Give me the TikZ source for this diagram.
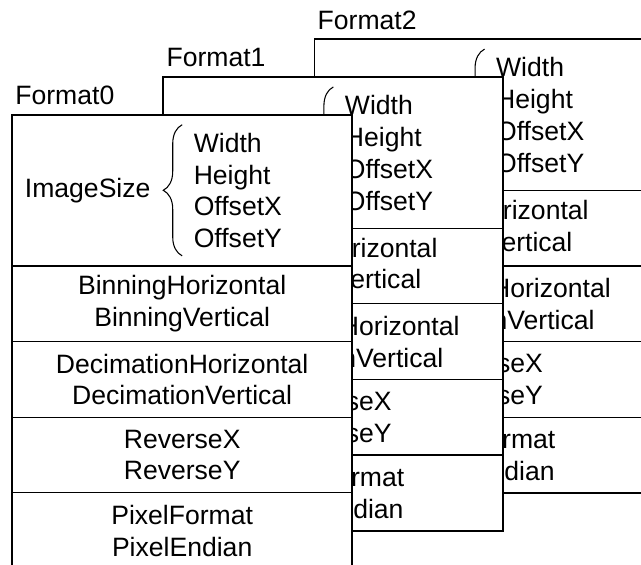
\documentclass[tikz,border=0pt]{standalone}
\usepackage{fontspec}
\setmainfont{Liberation Sans}
\usetikzlibrary{decorations.pathreplacing}

\begin{document}
\begin{tikzpicture}[
    font=\fontsize{20}{24}\selectfont,
    frame/.style={line width=1.4pt},
    divider/.style={line width=0.9pt},
    field/.style={align=center, inner sep=0pt},
  ]

      \clip (-0.32,0.094) rectangle (16.64,15.04); % page

      \foreach \n in {2,1,0} {
        \begin{scope}[shift={(4*\n,\n)}]
          \filldraw[frame, fill=white] (0,0) rectangle (9,12);
          \foreach \y in {2,4,6,8}
              \draw[divider] (0,\y) -- (9,\y);

          \node[anchor=base west, inner sep=0pt] (label\n) at (0.08,12.27) {Format\n};

          \node[field] (size\n) at (2,10) {ImageSize};
          \draw[line width=0.8pt, decorate, decoration={brace, amplitude=0.5cm}] (4.5,8.27) -- (4.5,11.74);
          \node[anchor=west, align=left, inner sep=0pt] (dims\n) at (4.8,10) {Width\\Height\\OffsetX\\OffsetY};

          \node[field] (binning\n) at (4.5,7) {BinningHorizontal\\BinningVertical};
          \node[field] (decimation\n) at (4.5,5) {DecimationHorizontal\\DecimationVertical};
          \node[field] (reverse\n) at (4.5,3) {ReverseX\\ReverseY};
          \node[field] (pixel\n) at (4.5,1) {PixelFormat\\PixelEndian};
        \end{scope}
      }

\end{tikzpicture}
\end{document}
